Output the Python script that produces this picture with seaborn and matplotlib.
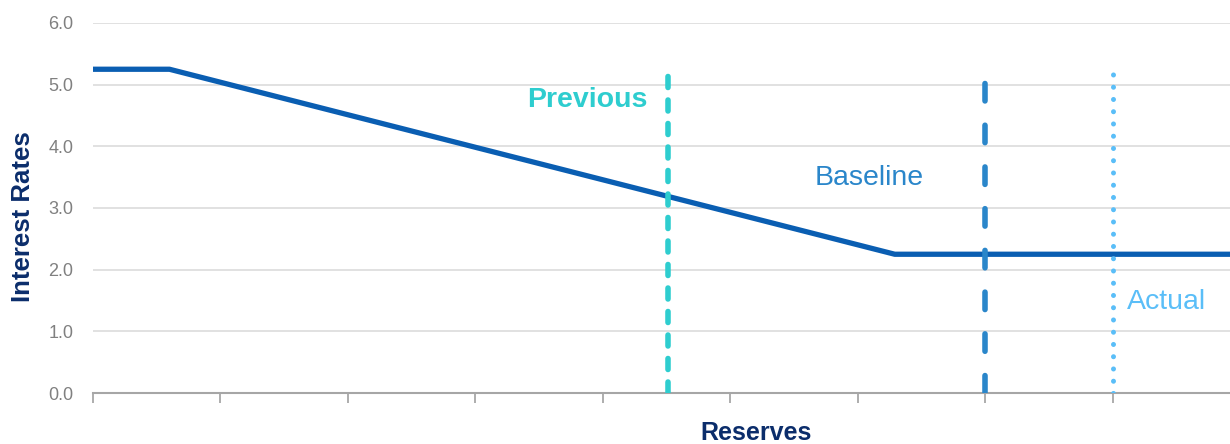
import matplotlib
matplotlib.use("Agg")
import matplotlib.pyplot as plt
import seaborn as sns
import pandas as pd

# policy curve (x in reserve units, one unit per tick)
reserves = [0.0, 0.6, 6.29, 8.92]
rates = [5.25, 5.25, 2.25, 2.25]

# vertical reference lines
ref_names = ["Previous", "Baseline", "Actual"]
ref_x = [4.51, 7.0, 8.0]
ref_top = [5.27, 5.07, 5.2]
ref_colors = ["#2ECDCF", "#2A86CA", "#5ABEF8"]

y_ticks = [0, 1, 2, 3, 4, 5, 6]
x_ticks = [0, 1, 2, 3, 4, 5, 6, 7, 8]

sns.set_theme(style="whitegrid")
plt.rcParams["font.family"] = ["Liberation Sans", "DejaVu Sans"]

fig = plt.figure(figsize=(12.3, 4.44), dpi=100)
ax = fig.add_axes([93 / 1230, 51 / 444, 1137 / 1230, 370 / 444])

curve = pd.DataFrame({"Reserves": reserves, "Rate": rates})
sns.lineplot(data=curve, x="Reserves", y="Rate", ax=ax, color="#0A5EB2",
             linewidth=3.8, zorder=3)

# dash patterns in linewidth units, drawn with round caps
styles = [(0, (1.98, 2.25)), (0, (3.14, 4.37)), (0, (0.01, 2.44))]
widths = [4.0, 4.0, 3.6]
for name, xv, top, col, ls, lw in zip(ref_names, ref_x, ref_top, ref_colors, styles, widths):
    seg = pd.DataFrame({"x": [xv, xv], "y": [0, top]})
    sns.lineplot(data=seg, x="x", y="y", ax=ax, color=col, linewidth=lw,
                 linestyle=ls, zorder=4, sort=False, estimator=None)
for line in ax.lines[1:]:
    line.set_dash_capstyle("round")

ax.text(4.35, 4.75, "Previous", color=ref_colors[0], fontsize=20.5,
        fontweight="bold", ha="right", va="center")
ax.text(6.09, 3.48, "Baseline", color=ref_colors[1], fontsize=20.5,
        ha="center", va="center")
ax.text(8.11, 1.47, "Actual", color=ref_colors[2], fontsize=20.5,
        ha="left", va="center")

ax.set_xlim(0, 8.92)
ax.set_ylim(0, 6)
ax.set_yticks(y_ticks)
ax.set_yticklabels([f"{v:.1f}" for v in y_ticks])
ax.set_xticks(x_ticks)
ax.set_xticklabels([])
ax.grid(axis="x", visible=False)
ax.grid(axis="y", color="#dcdcdc", linewidth=1.2)
ax.tick_params(axis="y", length=0, pad=14, labelsize=13, labelcolor="#808080")
ax.tick_params(axis="x", length=7, width=1.2, color="#a0a0a0", direction="out",
               bottom=True)
for side in ["top", "right", "left"]:
    ax.spines[side].set_visible(False)
ax.spines["bottom"].set_color("#a6a6a6")
ax.spines["bottom"].set_linewidth(1.5)

ax.set_xlabel("Reserves", fontsize=18, fontweight="bold", color="#0B2D6B")
ax.set_ylabel("Interest Rates", fontsize=18.5, fontweight="bold", color="#0B2D6B")
ax.xaxis.set_label_coords(0.583, -0.075)
ax.yaxis.set_label_coords(-0.062, 0.476)
ax.yaxis.label.set_va("center")

fig.savefig("out.png", dpi=100, facecolor="white")
